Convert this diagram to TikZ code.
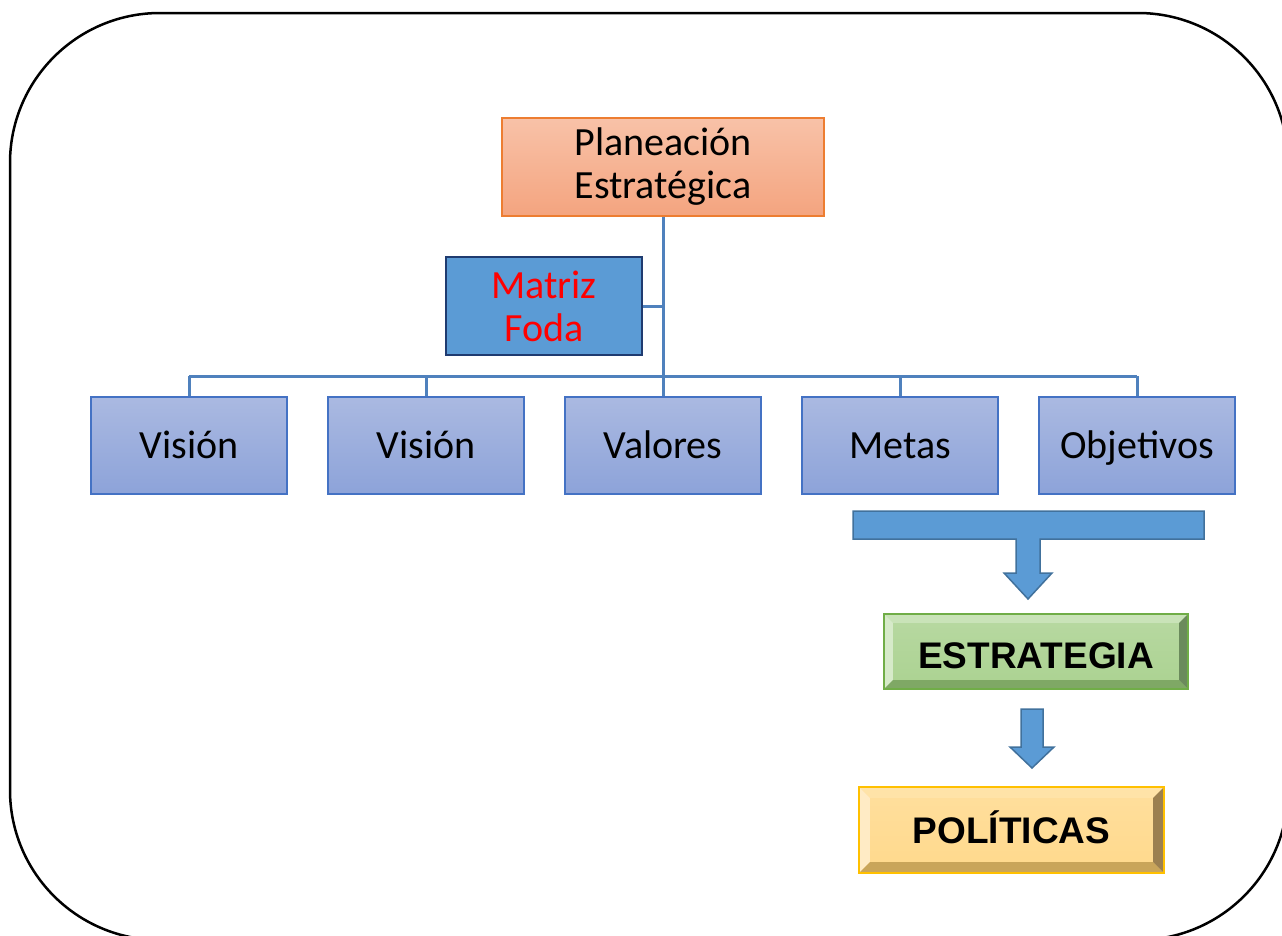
\documentclass[tikz,border=0pt]{standalone}
\usepackage{fontspec}
\setmainfont{Carlito}
\newfontfamily\arialfont{Liberation Sans}
\usetikzlibrary{calc}
\definecolor{planTop}{HTML}{F8C2A8}
\definecolor{planBot}{HTML}{F4A47F}
\definecolor{planBorder}{HTML}{ED7D31}
\definecolor{matFill}{HTML}{5B9BD5}
\definecolor{matBorder}{HTML}{1F3B70}
\definecolor{boxTop}{HTML}{AAB9E1}
\definecolor{boxBot}{HTML}{8DA3D9}
\definecolor{boxBorder}{HTML}{4472C4}
\definecolor{connCol}{HTML}{4F81BD}
\definecolor{arrFill}{HTML}{5B9BD5}
\definecolor{arrBorder}{HTML}{41719C}
\definecolor{gFace}{HTML}{ABD291}
\definecolor{gTop}{HTML}{C9E3B8}
\definecolor{gLeft}{HTML}{D6EAC9}
\definecolor{gBot}{HTML}{7FA865}
\definecolor{gRight}{HTML}{6B8A5C}
\definecolor{gBorder}{HTML}{70AD47}
\definecolor{yFace}{HTML}{FFD98C}
\definecolor{yTop}{HTML}{FFE3A8}
\definecolor{yLeft}{HTML}{FFEBC5}
\definecolor{yBot}{HTML}{C9A55A}
\definecolor{yRight}{HTML}{9C8050}
\definecolor{yBorder}{HTML}{FFC000}
\newcommand{\bevelfaces}[7]{%
  \fill[#3] (#1.north west) -- (#1.north east) -- ($(#1.north east)+(-#2,#2)$) -- ($(#1.north west)+(#2,#2)$) -- cycle;
  \fill[#4] (#1.north west) -- ($(#1.north west)+(#2,#2)$) -- ($(#1.south west)+(#2,-#2)$) -- (#1.south west) -- cycle;
  \fill[#5] (#1.south west) -- ($(#1.south west)+(#2,-#2)$) -- ($(#1.south east)+(-#2,-#2)$) -- (#1.south east) -- cycle;
  \fill[#6] (#1.north east) -- (#1.south east) -- ($(#1.south east)+(-#2,-#2)$) -- ($(#1.north east)+(-#2,#2)$) -- cycle;
  \draw[#7, line width=2pt] (#1.north west) rectangle (#1.south east);
}
\begin{document}
\begin{tikzpicture}[x=1pt,y=-1pt,
  txt/.style={font=\fontsize{40}{43}\selectfont, align=center, inner sep=0pt},
  plan/.style={txt, minimum width=322pt, minimum height=98pt, top color=planTop, bottom color=planBot, draw=planBorder, line width=1.5pt},
  matriz/.style={txt, text=red, minimum width=196pt, minimum height=98pt, fill=matFill, draw=matBorder, line width=2.5pt},
  item/.style={txt, text height=26pt, text depth=0pt, minimum width=196pt, minimum height=97pt, top color=boxTop, bottom color=boxBot, draw=boxBorder, line width=1.5pt},
  conn/.style={draw=connCol, line width=3pt},
  blockarrow/.style={fill=arrFill, draw=arrBorder, line width=1.5pt, line join=miter},
  bevelbox/.style={font=\arialfont\bfseries\fontsize{37}{43}\selectfont, inner sep=0pt},
  bevellabel/.style={bevelbox, text height=27pt, text depth=0pt}
]
\useasboundingbox (0,0) rectangle (1282,935);
\begin{scope}
  \clip (0,0) rectangle (1282,935);
  \draw[line width=2.5pt, rounded corners=150pt] (10,13) rectangle (1288,940);
\end{scope}

\node[plan] (plan) at (663,167) {Planeación\\Estratégica};
\node[matriz] (matriz) at (544,306) {Matriz\\Foda};

\node[item] (v1) at (189,445.5) {Visión};
\node[item] (v2) at (426,445.5) {Visión};
\node[item] (val) at (663,445.5) {Valores};
\node[item] (met) at (900,445.5) {Metas};
\node[item] (obj) at (1137,445.5) {Objetivos};

\coordinate (bus) at (663,376);
\draw[conn] (plan.south) -- (val.north);
\draw[conn] (matriz.east) -- (matriz.east -| plan.south);
\draw[conn] (v1.north |- bus) -- (obj.north |- bus);
\foreach \n in {v1,v2,val,met,obj} \draw[conn] (\n.north) -- (\n.north |- bus);

\draw[blockarrow] (853,511) -- (1204,511) -- (1204,539) -- (1040,539) -- (1040,573) -- (1052,573) -- (1028,599) -- (1004,573) -- (1016,573) -- (1016,539) -- (853,539) -- cycle;

\node[bevelbox, minimum width=304pt, minimum height=75pt, top color=gFace!85!white, bottom color=gFace] (estr) at (1036,651.5) {};
\bevelfaces{estr}{9}{gTop}{gLeft}{gBot}{gRight}{gBorder}
\node[bevellabel] at ($(estr.center)+(0,3.5)$) {ESTRATEGIA};

\draw[blockarrow] (1021,709) -- (1043,709) -- (1043,747) -- (1054,747) -- (1032,768) -- (1010,747) -- (1021,747) -- cycle;

\node[bevelbox, minimum width=305pt, minimum height=86pt, top color=yFace!85!white, bottom color=yFace] (pol) at (1011.5,830) {};
\bevelfaces{pol}{11}{yTop}{yLeft}{yBot}{yRight}{yBorder}
\node[bevellabel] at (pol.center) {POLÍTICAS};
\end{tikzpicture}
\end{document}
